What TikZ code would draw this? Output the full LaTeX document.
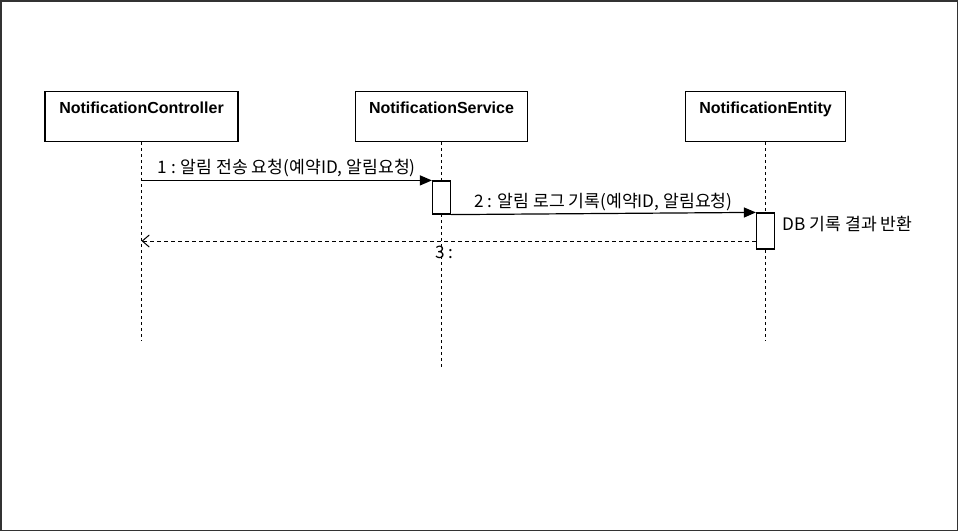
\documentclass[tikz,border=0pt]{standalone}
\usepackage{fontspec}
\setmainfont{Liberation Sans}
\newfontfamily\kofont{Noto Sans CJK KR}
\usetikzlibrary{arrows.meta,positioning}
\tikzset{
  classbox/.style={draw, line width=1.2pt, inner sep=0pt, text height=22pt, text depth=28pt, font=\fontsize{16}{18}\selectfont\bfseries},
  actbox/.style={draw, fill=white, line width=1.2pt, minimum width=18pt, inner sep=0pt},
  lifeline/.style={line width=0.9pt, dash pattern=on 3pt off 3pt},
  msg/.style={line width=1.2pt, -{Triangle[length=12pt,width=10pt]}},
  reply/.style={line width=1pt, dash pattern=on 4pt off 3pt, -{Straight Barb[length=7pt,width=12pt]}},
  msglabel/.style={font=\kofont\fontsize{17.2}{19}\selectfont, inner sep=2.5pt}
}
\begin{document}
\begin{tikzpicture}[x=1pt,y=-1pt]
			\useasboundingbox (0,0) rectangle (958,531);
			\draw[line width=1.5pt, black!80] (0.75,0.75) rectangle (957.25,530.25);

			\node[classbox, minimum width=193pt] (ctrl) at (141.5,116.5) {NotificationController};
			\node[classbox, minimum width=172pt] (svc)  at (441.5,116.5) {NotificationService};
			\node[classbox, minimum width=160pt] (ent)  at (765.5,116.5) {NotificationEntity};

			\coordinate (ctrl-end) at (141.5,341);
			\coordinate (svc-end)  at (441.5,368);
			\coordinate (ent-end)  at (765.5,341);
			\draw[lifeline] (ctrl.south) -- (ctrl-end);
			\draw[lifeline] (svc.south)  -- (svc-end);
			\draw[lifeline] (ent.south)  -- (ent-end);

			\node[actbox, minimum height=33pt] (svc-act) at (441.5,197.5) {};
			\node[actbox, minimum height=36pt] (ent-act) at (765.5,231) {};

			\draw[msg] (ctrl.south |- svc-act.north) -- (svc-act.north west)
				node [msglabel, midway, above] {1 : 알림 전송 요청(예약ID, 알림요청)};
			\draw[msg] (svc-act.south east) -- (ent-act.north west)
				node [msglabel, midway, above] {2 : 알림 로그 기록(예약ID, 알림요청)};
			\draw[reply] ([yshift=-10pt]ent-act.west) -- ([yshift=-10pt]ent-act.west -| ctrl.south)
				node [msglabel, pos=0.507, below, inner sep=4.5pt] {3 :};
			\node[msglabel, right=5pt of ent-act.east, anchor=west, yshift=7pt] (db-result) {DB 기록 결과 반환};
		\end{tikzpicture}
\end{document}
